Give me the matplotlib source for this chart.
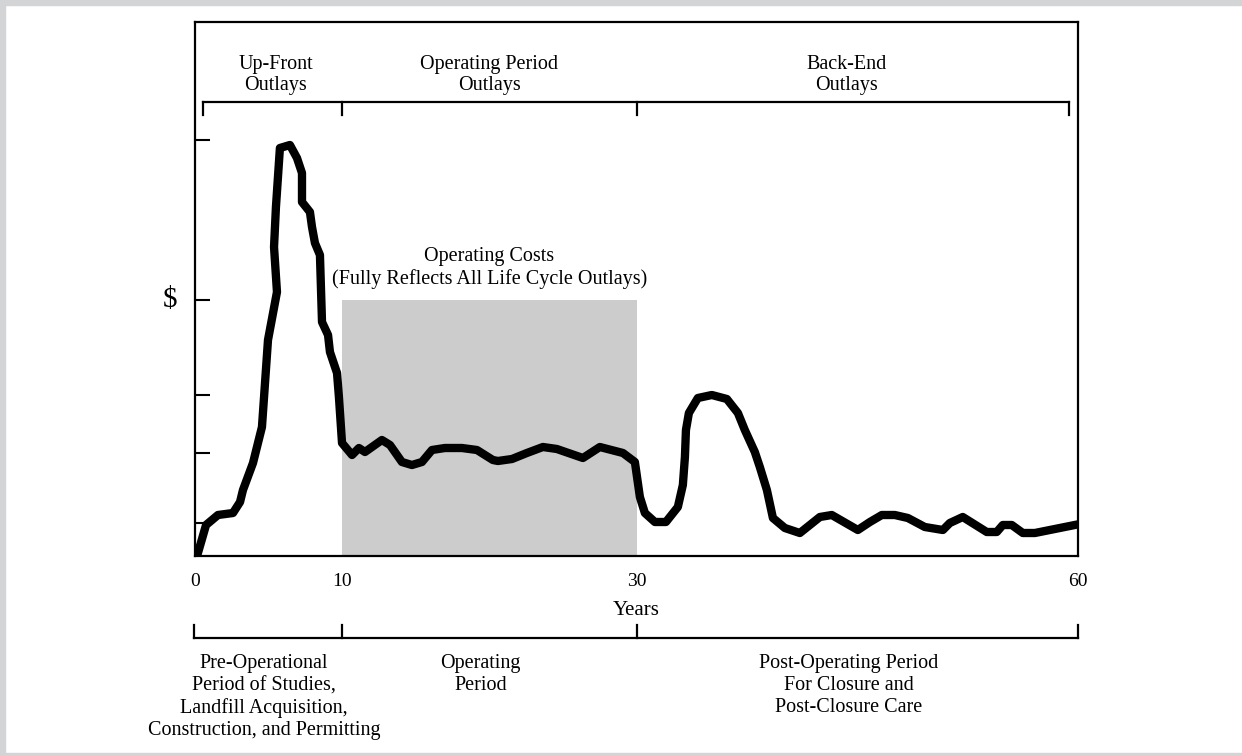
import numpy as np
import matplotlib.pyplot as plt
from matplotlib.patches import Rectangle

plt.rcParams['font.family'] = ['Liberation Serif', 'DejaVu Serif']

# cost curve (years, relative cost)
years = [0.20, 0.75, 1.56, 2.58, 3.06, 3.26, 3.94, 4.55, 4.96, 5.57, 5.37, 5.50,
         5.77, 6.45, 6.93, 7.27, 7.27, 7.81, 7.95, 8.15, 8.49, 8.63, 9.04, 9.17,
         9.65, 9.78, 9.99, 10.67, 11.14, 11.55, 12.70, 13.25, 14.06, 14.74, 15.42,
         16.10, 16.98, 18.14, 19.16, 20.24, 20.58, 21.54, 22.55, 23.64, 24.59,
         26.36, 27.51, 29.08, 29.89, 30.23, 30.57, 31.25, 32.00, 32.81, 33.15,
         33.29, 33.36, 33.56, 34.17, 35.12, 36.14, 36.89, 37.36, 38.04, 38.38,
         38.86, 39.27, 40.08, 41.10, 42.46, 43.27, 45.04, 45.86, 46.67, 47.55,
         48.44, 49.59, 50.82, 51.29, 52.17, 53.80, 54.48, 54.89, 55.50, 56.25,
         57.07, 59.78]
cost = [0.3, 3.1, 4.1, 4.3, 5.4, 6.6, 9.3, 12.9, 21.6, 26.4, 30.9, 34.9,
        40.8, 41.1, 39.8, 38.3, 35.4, 34.4, 32.9, 31.3, 30.1, 23.4, 22.1, 20.4,
        18.3, 15.9, 11.3, 10.1, 10.8, 10.4, 11.6, 11.1, 9.4, 9.1, 9.4,
        10.6, 10.8, 10.8, 10.6, 9.6, 9.5, 9.7, 10.3, 10.9, 10.7,
        9.8, 10.9, 10.3, 9.4, 5.9, 4.3, 3.4, 3.4, 4.9, 7.1,
        9.9, 12.6, 14.3, 15.8, 16.1, 15.7, 14.3, 12.6, 10.4, 8.9,
        6.6, 3.8, 2.8, 2.3, 3.9, 4.1, 2.6, 3.4, 4.1, 4.1,
        3.8, 2.9, 2.6, 3.3, 3.9, 2.4, 2.4, 3.1, 3.1, 2.3,
        2.3, 3.1]

year_ticks = [0, 10, 30, 60]
cost_ticks = [3.3, 10.3, 16.1, 25.6, 41.6]
operating_level = 25.6

top_labels = ['Up-Front\nOutlays', 'Operating Period\nOutlays', 'Back-End\nOutlays']
top_label_x = [5.5, 20.0, 44.3]
bottom_labels = ['Pre-Operational\nPeriod of Studies,\nLandfill Acquisition,\nConstruction, and Permitting',
                 'Operating\nPeriod',
                 'Post-Operating Period\nFor Closure and\nPost-Closure Care']
bottom_label_x = [4.7, 19.4, 44.4]

fig = plt.figure(figsize=(12.42, 7.55), dpi=100)
ax = fig.add_axes([195 / 1242, 1 - 556 / 755, 883 / 1242, 534 / 755])

# light grey frame around the picture
fig.patches.append(Rectangle((0, 1 - 5 / 755), 1, 5 / 755, transform=fig.transFigure,
                             color='#d3d4d6', zorder=0))
fig.patches.append(Rectangle((0, 0), 5 / 1242, 1, transform=fig.transFigure,
                             color='#d3d4d6', zorder=0))
fig.patches.append(Rectangle((0, 0), 1, 2 / 755, transform=fig.transFigure,
                             color='#d3d4d6', zorder=0))

ax.add_patch(Rectangle((10, 0), 20, operating_level, color='#cccccc', lw=0, zorder=1))
ax.plot(years, cost, color='black', lw=6, solid_joinstyle='round', zorder=3)

ax.set_xlim(0, 60)
ax.set_ylim(0, 53.4)
for s in ax.spines.values():
    s.set_linewidth(1.6)

ax.set_xticks(year_ticks)
ax.set_xticklabels([str(t) for t in year_ticks])
ax.tick_params(axis='x', length=0, pad=12, labelsize=14)
ax.set_yticks(cost_ticks)
ax.set_yticklabels([])
ax.tick_params(axis='y', direction='in', length=11, width=1.5)
ax.set_xlabel('Years', fontsize=15, labelpad=8)

ax.text(-1.7, operating_level, '$', fontsize=21, ha='center', va='center')
ax.text(20, 28.8, 'Operating Costs\n(Fully Reflects All Life Cycle Outlays)',
        fontsize=14.5, ha='center', va='center', linespacing=1.15, zorder=4)

# top bracket
ax.plot([0.54, 59.4], [45.4, 45.4], color='black', lw=1.6, clip_on=False)
for b in [0.54, 10, 30, 59.4]:
    ax.plot([b, b], [45.4, 44.1], color='black', lw=1.6, clip_on=False)
for lab, x in zip(top_labels, top_label_x):
    ax.text(x, 48.1, lab, fontsize=14.5, ha='center', va='center', linespacing=1.2)

# bottom bracket
ax.plot([-0.1, 60], [-8.2, -8.2], color='black', lw=1.6, clip_on=False)
for b in [-0.1, 10, 30, 60]:
    ax.plot([b, b], [-8.2, -6.9], color='black', lw=1.6, clip_on=False)
for lab, x in zip(bottom_labels, bottom_label_x):
    ax.text(x, -9.8, lab, fontsize=14.5, ha='center', va='top', linespacing=1.22)

fig.savefig('out.png', dpi=100)
